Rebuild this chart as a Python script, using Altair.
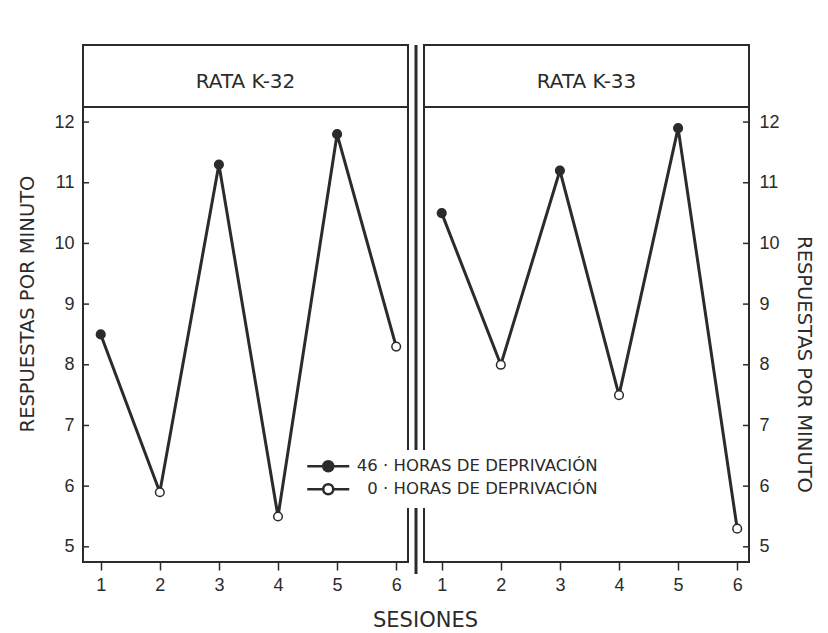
import altair as alt
import pandas as pd

# ---- data ----
sesiones = [1, 2, 3, 4, 5, 6]
k32_valores = [8.5, 5.9, 11.3, 5.5, 11.8, 8.3]
k33_valores = [10.5, 8.0, 11.2, 7.5, 11.9, 5.3]
condiciones = ["46 · HORAS DE DEPRIVACIÓN", "0 · HORAS DE DEPRIVACIÓN"]
condicion_por_sesion = [0, 1, 0, 1, 0, 1]  # index into condiciones
ratas = ["RATA K-32", "RATA K-33"]
y_ticks = [5, 6, 7, 8, 9, 10, 11, 12]
x_domain = [0.7, 6.2]
y_domain = [4.75, 13.27]
header_line_value = 12.25
header_text_value = 12.66

FONT = "Liberation Sans"
WIDE = "DejaVu Sans"
INK = "#2b2b2b"
W, H = 325, 517

legend_path = "M-4.2,0H-1M1,0H4.2M-1,0A1,1,0,1,1,1,0A1,1,0,1,1,-1,0Z"


def make_df(vals):
    return pd.DataFrame({
        "sesion": sesiones,
        "valor": vals,
        "condicion": [condiciones[i] for i in condicion_por_sesion],
    })


def panel(vals, rata, orient):
    df = make_df(vals)
    tdf = pd.DataFrame({"tick": y_ticks})
    one = pd.DataFrame({"rata": [rata]})
    xs = alt.Scale(domain=x_domain, nice=False, zero=False)
    ys = alt.Scale(domain=y_domain, nice=False, zero=False)
    x_axis = alt.Axis(
        values=sesiones, title=None, format="d", domain=False, grid=False,
        tickSize=8, tickWidth=1.5, tickColor=INK, labelFontSize=18,
        labelFont=FONT, labelColor=INK, labelPadding=6)
    if orient == "right":
        extra = {"titleY": 319, "titlePadding": 14, "labelPadding": 10}
    else:
        extra = {"titlePadding": 16, "labelPadding": 9}
    y_axis = alt.Axis(
        values=y_ticks, orient=orient, title="RESPUESTAS POR MINUTO",
        domain=False, grid=False, ticks=False, labelFontSize=18,
        labelFont=FONT, labelColor=INK,
        titleFont=WIDE, titleFontSize=19.5, titleFontWeight="normal",
        titleColor=INK, **extra)

    def X(field=None, datum=None):
        if datum is not None:
            return alt.X(datum=datum, type="quantitative", scale=xs, axis=x_axis)
        return alt.X(field, type="quantitative", scale=xs, axis=x_axis)

    def Y(field=None, datum=None):
        if datum is not None:
            return alt.Y(datum=datum, type="quantitative", scale=ys, axis=y_axis)
        return alt.Y(field, type="quantitative", scale=ys, axis=y_axis)

    line = alt.Chart(df).mark_line(color=INK, strokeWidth=3).encode(
        x=X("sesion"), y=Y("valor"))
    pts = alt.Chart(df).mark_point(filled=True, stroke=INK, strokeWidth=1.5,
                                   size=75, opacity=1).encode(
        x=X("sesion"), y=Y("valor"),
        fill=alt.Fill("condicion:N",
                      scale=alt.Scale(domain=condiciones, range=[INK, "white"]),
                      legend=alt.Legend(
                          title=None, orient="none", legendX=229, legendY=405,
                          symbolType=legend_path, symbolSize=100,
                          symbolStrokeColor=INK, symbolStrokeWidth=2.5,
                          labelFont=WIDE, labelFontSize=16.5, labelColor=INK,
                          labelAlign="right", labelLimit=0, labelOffset=261,
                          rowPadding=2, padding=8, fillColor="white")))
    if orient == "left":
        tx, tx2 = 0, 6
    else:
        tx, tx2 = W - 6, W
    ticks = alt.Chart(tdf).mark_rule(color=INK, strokeWidth=1.5).encode(
        y=Y("tick"), x=alt.value(tx), x2=alt.value(tx2))
    hline = alt.Chart(one).mark_rule(color=INK, strokeWidth=2).encode(
        y=Y(datum=header_line_value), x=alt.value(0), x2=alt.value(W))
    htext = alt.Chart(one).mark_text(font=WIDE, fontSize=20, color=INK,
                                     fontWeight="normal").encode(
        x=X(datum=(x_domain[0] + x_domain[1]) / 2),
        y=Y(datum=header_text_value),
        text="rata:N")
    layers = [line, pts, ticks, hline, htext]
    if orient == "right":
        divider = alt.Chart(one).mark_rule(color=INK, strokeWidth=3).encode(
            x=alt.value(-8), y=alt.value(0), y2=alt.value(H + 12))
        layers = layers + [divider]
    return alt.layer(*layers).properties(width=W, height=H)


left = panel(k32_valores, ratas[0], "left")
right = panel(k33_valores, ratas[1], "right")

chart = alt.hconcat(left, right, spacing=16, bounds="flush",
                    title=alt.TitleParams("SESIONES", orient="bottom",
                                          anchor="middle", fontSize=21,
                                          fontWeight="normal", font=WIDE,
                                          color=INK, offset=15, dx=10)
                    ).properties(
    padding={"left": 16, "top": 42, "right": 8, "bottom": 2},
    background="white",
).configure_view(stroke=INK, strokeWidth=2)

chart.save("out.html", embed_options={"renderer": "svg", "actions": False})
